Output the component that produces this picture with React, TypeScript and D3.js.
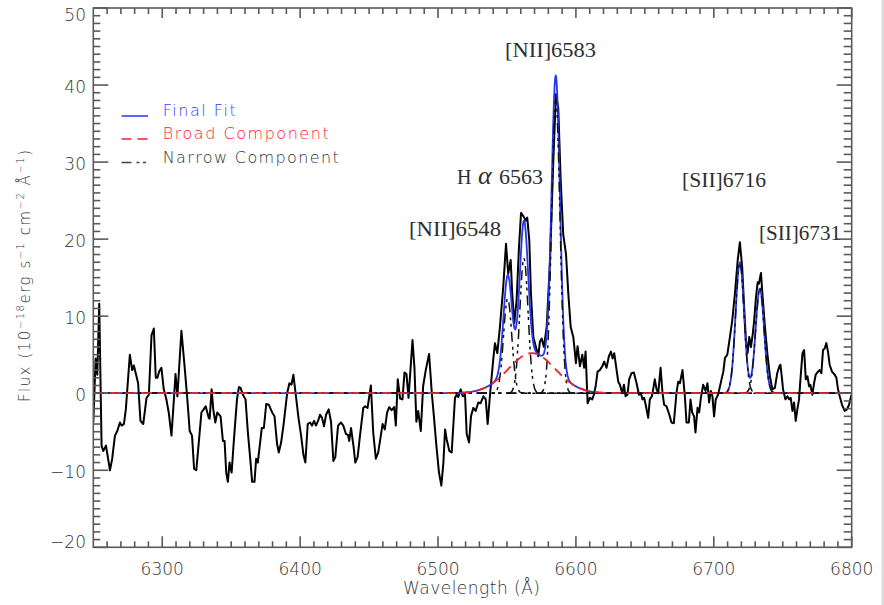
import React from 'react';
import * as d3 from 'd3';

// Observed spectrum (wavelength in Å, flux in 1e-18 erg/s/cm2/Å)
const spectrumWave = [
  6250.0,6251.7,6252.9,6254.3,6256.0,6257.2,6259.2,6262.1,6263.7,6265.7,6267.4,6269.3,6270.5,6272.2,6273.6,6276.5,6278.2,6279.4,6281.3,6282.5,
  6284.2,6286.2,6288.6,6290.3,6292.2,6293.9,6295.3,6296.5,6297.7,6299.4,6301.1,6303.0,6304.7,6306.7,6308.3,6309.6,6311.0,6313.9,6316.3,6318.2,
  6319.9,6321.6,6323.1,6324.7,6326.7,6328.4,6330.0,6331.5,6333.7,6334.4,6335.8,6337.0,6338.5,6339.9,6342.3,6344.0,6345.2,6346.4,6347.6,6348.8,
  6350.3,6352.0,6354.2,6355.6,6356.8,6358.5,6360.4,6362.1,6363.8,6365.2,6366.9,6368.1,6369.3,6372.2,6373.7,6375.4,6377.3,6379.7,6381.4,6383.3,
  6384.5,6386.2,6387.9,6390.6,6392.2,6393.7,6395.1,6397.1,6398.8,6400.7,6402.4,6403.8,6405.5,6407.2,6408.6,6410.1,6411.5,6413.0,6414.4,6415.9,
  6417.3,6418.8,6420.7,6422.4,6424.1,6425.5,6427.5,6429.6,6431.3,6433.2,6434.7,6435.6,6436.9,6438.8,6440.0,6441.7,6443.4,6445.8,6447.2,6448.9,
  6451.3,6453.0,6454.9,6456.6,6458.1,6459.8,6461.4,6463.1,6464.6,6466.3,6468.2,6469.4,6470.8,6472.5,6474.2,6475.7,6477.1,6478.6,6481.5,6482.9,
  6484.3,6485.6,6487.5,6489.2,6491.1,6493.5,6495.5,6497.1,6498.8,6500.7,6502.4,
  6503.9,6505.1,6506.3,6508.2,6509.9,6512.3,6513.5,6514.7,6516.4,6517.9,6519.6,6520.8,6522.5,6523.9,6525.6,6527.3,6529.2,6530.9,6532.9,6534.6,
  6536.0,6537.7,6540.1,
  6541.3,6543.0,6544.9,6547.3,6549.3,6550.9,6552.7,6553.8,6555.3,6557.0,6558.7,6560.2,6561.8,6563.6,6564.7,6566.2,6567.4,6569.1,6571.0,6572.7,
  6573.9,6575.2,6576.8,6578.8,6581.2,6583.6,6585.5,6587.2,6588.9,6590.8,6592.8,6594.5,6596.2,6598.1,6599.3,
  6600.0,6601.2,6602.9,6604.6,6606.0,6607.0,6608.5,6610.1,6611.8,6613.0,6614.3,6615.7,6617.4,6619.1,6620.5,6622.2,6623.9,6625.4,6626.6,6627.8,
  6629.5,6630.7,6631.9,6633.6,6634.8,6636.0,6637.4,6638.6,6640.3,6642.0,6644.0,6645.7,6647.1,6648.3,6649.5,6650.7,6652.4,6653.6,6655.1,6656.0,
  6657.2,6658.5,6659.7,6661.4,6662.8,6664.0,6665.7,6667.6,6669.3,6671.0,6672.9,6674.2,6675.4,6677.3,6679.0,6680.2,6681.9,6683.1,6684.3,6685.7,
  6686.7,6688.2,6689.4,6690.6,6692.3,6694.0,6695.4,6696.6,6697.8,6699.0,6700.2,6701.4,6703.1,6705.6,
  6706.9,6708.1,6709.8,6711.7,6713.4,6715.3,6717.3,6718.9,6720.6,6722.1,6723.3,6724.5,6725.7,6726.9,6728.2,6729.3,6730.6,6731.8,6732.7,6734.2,
  6735.4,6737.1,6738.8,6740.7,6742.4,6744.3,6746.0,6747.5,
  6748.3,6749.5,6750.2,6751.9,6753.4,6754.6,6755.8,6757.0,6758.2,6759.4,6760.6,6761.8,6763.0,6764.3,6765.5,6766.7,6767.9,6769.1,6770.0,6771.5,
  6772.7,6773.9,6775.6,6776.8,6778.0,6779.2,6780.4,6781.6,6782.8,6784.0,6785.7,6787.7,6788.9,6790.1,6791.3,6793.0,6794.9,6796.6,6798.1,6799.8,
];
const spectrumFlux = [
  -3.8,4.5,2.4,11.6,-6.8,-7.5,-6.8,-10.0,-8.5,-5.5,-4.9,-3.8,-4.2,-4.0,-2.1,5.0,3.0,3.6,2.2,1.3,
  -3.6,-4.0,-0.6,-0.2,7.5,8.4,2.0,2.0,2.8,3.3,0.5,-0.8,-2.5,-5.5,-1.2,2.5,-0.4,8.1,3.3,-0.8,
  -4.9,-5.5,-9.8,-10.0,-6.0,-2.5,-2.1,-1.7,-3.2,-3.3,0.5,-2.1,-3.8,-2.5,-3.0,-6.2,-6.2,-10.3,-11.5,-9.0,
  -10.3,-6.0,-0.8,0.8,0.7,-0.2,-0.8,-5.1,-8.5,-11.5,-11.5,-8.5,-9.0,-4.5,-4.5,-1.4,-1.5,-2.5,-3.0,-6.6,
  -7.7,-6.4,-4.2,0.0,1.3,1.1,2.4,-0.6,-3.2,-5.5,-8.0,-9.0,-4.0,-3.8,-4.2,-3.6,-4.2,-3.6,-2.8,-3.2,
  -4.3,-2.8,-2.1,-3.7,-8.8,-8.3,-4.2,-3.8,-4.2,-5.3,-5.4,-6.2,-4.5,-7.0,-9.0,-8.3,-5.5,-1.9,-1.7,-1.9,
  1.0,-5.1,-8.5,-7.7,-6.0,-4.0,-4.7,-2.5,-1.8,-2.2,-1.8,-4.2,1.8,-0.7,-0.8,2.7,2.5,-0.6,6.9,3.3,
  -3.7,-2.3,-4.9,0.9,3.0,5.1,0.0,-3.2,-6.8,-10.3,-12.0,
  -9.0,-4.7,-6.0,-7.5,-7.7,-0.6,-0.2,-0.5,0.5,-0.4,-0.2,-5.3,-6.4,-3.0,-1.9,-2.3,-1.2,-1.3,-0.4,-0.8,
  -4.0,-0.2,4.5,
  6.5,5.2,8.6,13.8,19.4,15.5,17.3,12.9,9.1,12.1,18.9,23.4,23.0,22.4,22.8,19.8,12.9,7.3,6.0,4.8,
  6.7,7.1,6.0,8.6,17.2,30.1,38.8,37.0,27.9,20.6,18.1,12.9,8.6,7.3,5.2,
  3.9,6.1,3.5,5.0,3.3,5.4,-1.3,-0.6,-0.8,-0.2,0.9,2.8,3.0,3.5,4.1,3.3,4.8,5.4,4.5,5.2,
  3.0,1.5,1.1,0.0,1.1,-0.4,-0.2,1.8,2.6,2.7,1.3,-0.2,0.0,-0.8,-0.6,-1.6,-3.2,-0.8,-0.4,0.5,
  1.8,0.5,0.0,3.3,0.0,-1.5,-1.7,-2.7,-3.8,-3.9,0.0,1.5,1.3,3.0,-0.4,-3.8,-3.8,-0.8,-2.5,-3.0,
  -5.1,-1.9,-2.5,-0.6,1.1,0.3,1.3,-1.2,0.3,-0.4,-3.0,-0.8,-0.2,1.8,
  2.8,4.6,5.0,7.3,9.5,12.9,17.2,19.6,16.3,10.8,6.9,5.2,7.3,6.0,7.6,9.5,12.5,14.4,14.2,15.6,
  12.5,8.6,5.2,2.2,0.5,0.7,2.6,3.5,
  3.7,1.8,0.5,-0.8,-0.4,-0.8,-0.6,-2.3,-1.2,-3.6,-2.1,-0.8,2.2,5.2,5.6,1.8,2.2,0.9,1.1,-0.2,
  1.3,2.4,2.8,3.0,2.6,5.6,5.8,6.5,5.4,3.7,2.8,2.4,2.0,0.5,-0.4,-1.5,-2.3,-2.1,-1.5,-0.2,
];

// Fitted Gaussian components
const narrowCenter = [6550.5, 6562.3, 6585.4, 6718.9, 6733.4];
const narrowAmp = [12.3, 17.5, 38.2, 17.0, 13.6];
const narrowSigma = [3.0, 3.0, 3.0, 3.1, 3.1];
const broadCenter = [6568.0];
const broadAmp = [5.2];
const broadSigma = [17.0];

const xTickValues = [6300, 6400, 6500, 6600, 6700, 6800];
const yTickValues = [-20, -10, 0, 10, 20, 30, 40, 50];

const W = 884, H = 605;
const L = 93.3, R = 851.7, T = 8, B = 547.3;

const x = d3.scaleLinear().domain([6250, 6800]).range([L, R]);
const y = d3.scaleLinear().domain([-20, 50]).range([B, T]);

const gauss = (l: number, c: number, a: number, s: number) => a * Math.exp(-((l - c) ** 2) / (2 * s * s));
const grid = d3.range(6250, 6800.001, 0.5);

const broadCurve = grid.map(l => [l, broadCenter.reduce((acc, c, i) => acc + gauss(l, c, broadAmp[i], broadSigma[i]), 0)] as [number, number]);
const narrowCurves = narrowCenter.map((c, i) => grid.map(l => [l, gauss(l, c, narrowAmp[i], narrowSigma[i])] as [number, number]));
const finalCurve = grid.map((l, k) => [l, broadCurve[k][1] + narrowCurves.reduce((acc, nc) => acc + nc[k][1], 0)] as [number, number]);
const dataPts = spectrumWave.map((w, i) => [w, spectrumFlux[i]] as [number, number]);

const line = d3.line<[number, number]>().x(d => x(d[0])).y(d => y(d[1]));

const AX = '#5a5a5a';
const BLUE = '#2336f0';
const RED = '#f2222a';
const NARROW_DASH = '10,5,3,3.5,3,5';
const BROAD_DASH = '10,6';

export default function App() {
  const xMinor = d3.range(6250, 6801, 10).filter(v => v % 100 !== 0 && v !== 6250);
  const yMinor = d3.range(-20, 51, 1).filter(v => v % 10 !== 0);
  const fmt = (v: number) => (v < 0 ? '\u2212' + Math.abs(v) : String(v));
  const tickFont = { fontFamily: 'DejaVu Sans', fontWeight: 200, fontSize: 17, fill: '#333' };
  const serif = { fontFamily: 'Liberation Serif', fontSize: 20, fill: '#2e2e2e' };
  return (
    <svg width={W} height={H} style={{ position: 'absolute', left: 0, top: 0, background: '#fff' }}>
      <rect x={0} y={0} width={W} height={H} fill="#fff" />
      <rect x={881.5} y={0} width={2.5} height={H} fill="#dedede" />
      <defs>
        <clipPath id="plotclip"><rect x={L} y={T} width={R - L} height={B - T} /></clipPath>
      </defs>
      <g clipPath="url(#plotclip)" fill="none" strokeLinejoin="round">
        <path d={line(dataPts) || ''} stroke="#000" strokeWidth={2} />
        <path d={line(finalCurve) || ''} stroke={BLUE} strokeWidth={1.8} />
        {narrowCurves.map((nc, i) => (
          <path key={i} d={line(nc) || ''} stroke="#111" strokeWidth={1.5} strokeDasharray={NARROW_DASH} />
        ))}
        <path d={line(broadCurve) || ''} stroke={RED} strokeWidth={1.8} strokeDasharray={BROAD_DASH} />
      </g>
      {/* axes frame */}
      <g stroke={AX} strokeWidth={1.6} fill="none">
        <rect x={L} y={T} width={R - L} height={B - T} />
        {xTickValues.map(v => (
          <g key={'xm' + v}>
            <line x1={x(v)} x2={x(v)} y1={B} y2={B - 11} />
            <line x1={x(v)} x2={x(v)} y1={T} y2={T + 10} />
          </g>
        ))}
        {xMinor.map(v => (
          <g key={'xn' + v}>
            <line x1={x(v)} x2={x(v)} y1={B} y2={B - 6} />
            <line x1={x(v)} x2={x(v)} y1={T} y2={T + 6} />
          </g>
        ))}
        {yTickValues.map(v => (
          <g key={'ym' + v}>
            <line x1={L} x2={L + 15} y1={y(v)} y2={y(v)} />
            <line x1={R} x2={R - 15} y1={y(v)} y2={y(v)} />
          </g>
        ))}
        {yMinor.map(v => (
          <g key={'yn' + v}>
            <line x1={L} x2={L + 7} y1={y(v)} y2={y(v)} />
            <line x1={R} x2={R - 8} y1={y(v)} y2={y(v)} />
          </g>
        ))}
      </g>
      {/* tick labels */}
      {xTickValues.map(v => (
        <text key={'xl' + v} x={x(v)} y={575} textAnchor="middle" {...tickFont}>{fmt(v)}</text>
      ))}
      {yTickValues.map(v => (
        <text key={'yl' + v} x={86} y={Math.min(548, Math.max(20.7, y(v) + 7.5))} textAnchor="end" {...tickFont}>{fmt(v)}</text>
      ))}
      {/* axis titles */}
      <text x={403} y={594} textLength={137} lengthAdjust="spacing" {...tickFont}>Wavelength (Å)</text>
      <text transform="translate(30,402) rotate(-90)" x={0} y={0} textLength={252} lengthAdjust="spacing"
        fontFamily="DejaVu Sans" fontWeight={200} fontSize={15} fill="#333">
        Flux (10<tspan fontSize={10} dy={-6}>−18</tspan><tspan dy={6}>erg s</tspan><tspan fontSize={10} dy={-6}>−1</tspan><tspan dy={6}> cm</tspan><tspan fontSize={10} dy={-6}>−2</tspan><tspan dy={6}> Å</tspan><tspan fontSize={10} dy={-6}>−1</tspan><tspan dy={6}>)</tspan>
      </text>
      {/* legend */}
      <g strokeWidth={1.5}>
        <line x1={121.5} x2={148} y1={116} y2={116} stroke={BLUE} />
        <line x1={121.5} x2={148} y1={139} y2={139} stroke={RED} strokeDasharray={BROAD_DASH} />
        <line x1={121.5} x2={147} y1={162.5} y2={162.5} stroke="#444" strokeDasharray={NARROW_DASH} />
      </g>
      <g fontFamily="DejaVu Sans" fontWeight={200} fontSize={16}>
        <text x={162.7} y={115.7} textLength={73} lengthAdjust="spacing" fill="#3a3aff">Final Fit</text>
        <text x={162.7} y={139} textLength={166} lengthAdjust="spacing" fill="#ff1a2a">Broad Component</text>
        <text x={162.7} y={163.3} textLength={176} lengthAdjust="spacing" fill="#333">Narrow Component</text>
      </g>
      {/* line annotations */}
      <text x={409} y={236} textLength={92} lengthAdjust="spacingAndGlyphs" {...serif}>[NII]6548</text>
      <text x={457} y={184} {...serif}>H</text>
      <text x={478} y={184} fontFamily="Liberation Serif" fontStyle="italic" fontSize={26} fill="#2e2e2e">α</text>
      <text x={499} y={184} textLength={44} lengthAdjust="spacingAndGlyphs" {...serif}>6563</text>
      <text x={505} y={57} textLength={91} lengthAdjust="spacingAndGlyphs" {...serif}>[NII]6583</text>
      <text x={682} y={187} textLength={84} lengthAdjust="spacingAndGlyphs" {...serif}>[SII]6716</text>
      <text x={759} y={240} textLength={82} lengthAdjust="spacingAndGlyphs" {...serif}>[SII]6731</text>
    </svg>
  );
}
